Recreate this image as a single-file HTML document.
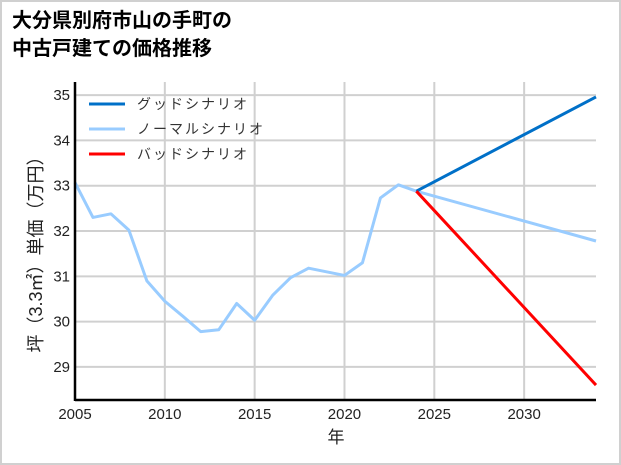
<!DOCTYPE html>
<html><head><meta charset="utf-8"><style>
body{margin:0;background:#fff;}
#wrap{position:relative;width:621px;height:465px;overflow:hidden;font-family:"Liberation Sans","Noto Sans CJK JP",sans-serif;}
</style></head><body>
<div id="wrap">
<svg id="chart" width="621" height="465" xmlns="http://www.w3.org/2000/svg">
<rect x="1" y="1" width="619" height="463" fill="#fff" stroke="#d0d0d0" stroke-width="2"/>
<text x="12" y="27" font-size="20" font-weight="bold" fill="#000" font-family="Liberation Sans, Noto Sans CJK JP, sans-serif">大分県別府市山の手町の</text>
<text x="12" y="55" font-size="20" font-weight="bold" fill="#000" font-family="Liberation Sans, Noto Sans CJK JP, sans-serif">中古戸建ての価格推移</text>
<g id="grid"></g>
<g id="series"></g>
<g id="axes"></g>
<text x="336" y="443" font-size="17" text-anchor="middle" fill="#222" font-family="Liberation Sans, Noto Sans CJK JP, sans-serif">年</text>
<text transform="translate(42,250) rotate(-90)" font-size="18" text-anchor="middle" fill="#222" font-family="Liberation Sans, Noto Sans CJK JP, sans-serif">坪（3.3㎡）単価（万円）</text>
<g id="legend"></g>
</svg>
</div>
<script>
const years = [2005,2006,2007,2008,2009,2010,2011,2012,2013,2014,2015,2016,2017,2018,2019,2020,2021,2022,2023,2024];
const history = [33.07,32.3,32.38,32.02,30.9,30.45,30.12,29.78,29.82,30.4,30.03,30.58,30.97,31.18,31.1,31.02,31.3,32.73,33.02,32.88];
const scenarioYears = [2024,2034];
const goodValues = [32.88,34.96];
const normalValues = [32.88,31.78];
const badValues = [32.88,28.6];
const xTicks = [2005,2010,2015,2020,2025,2030];
const yTicks = [29,30,31,32,33,34,35];
const legendLabels = ["グッドシナリオ","ノーマルシナリオ","バッドシナリオ"];
const legendColors = ["#0070c8","#99ccff","#ff0000"];

const NS="http://www.w3.org/2000/svg";
const L=75,R=596,T=82,B=400;
const xmin=2005,xmax=2034,ymin=28.27,ymax=35.29;
function xs(v){return L+(v-xmin)/(xmax-xmin)*(R-L);}
function ys(v){return B-(v-ymin)/(ymax-ymin)*(B-T);}
function mk(tag,attrs,parent){const e=document.createElementNS(NS,tag);for(const k in attrs)e.setAttribute(k,attrs[k]);parent.appendChild(e);return e;}
const grid=document.getElementById('grid'),axes=document.getElementById('axes'),series=document.getElementById('series'),legend=document.getElementById('legend');
xTicks.forEach(t=>{
  const l=mk('line',{x1:xs(t),x2:xs(t),y1:T,y2:B,stroke:'#d0d0d0','stroke-width':2},grid);
  
  
  const tx=mk('text',{x:xs(t),y:B+19,'font-size':15,'text-anchor':'middle',fill:'#222'},axes);
  tx.textContent=t;
  
  
});
yTicks.forEach(t=>{
  const l=mk('line',{x1:L,x2:R,y1:ys(t),y2:ys(t),stroke:'#d0d0d0','stroke-width':2},grid);
  
  
  const tx=mk('text',{x:L-5,y:ys(t)+5,'font-size':15,'text-anchor':'end',fill:'#222'},axes);
  tx.textContent=t;
  
  
});
const ax1=mk('line',{x1:L,x2:L,y1:T,y2:B+1,stroke:'#000','stroke-width':2.5},axes);


const ax2=mk('line',{x1:L,x2:R,y1:B,y2:B,stroke:'#000','stroke-width':2.5},axes);


function line(xv,yv,color,name){
  const p=mk('polyline',{points:xv.map((x,i)=>xs(x)+','+ys(yv[i])).join(' '),fill:'none',stroke:color,'stroke-width':3,'stroke-linejoin':'round'},series);
  
  
}
line(years,history,'#99ccff','history-line');
line(scenarioYears,normalValues,'#99ccff','normal-scenario-line');
line(scenarioYears,goodValues,'#0070c8','good-scenario-line');
line(scenarioYears,badValues,'#ff0000','bad-scenario-line');
legendLabels.forEach((lab,i)=>{
  const y=104+i*25;
  const l=mk('line',{x1:89,x2:125,y1:y,y2:y,stroke:legendColors[i],'stroke-width':3},legend);
  
  
  const t=mk('text',{x:137,y:y+5,'font-size':14,fill:'#333','letter-spacing':'2'},legend);
  t.textContent=lab;
  
  
});
</script>
</body></html>
